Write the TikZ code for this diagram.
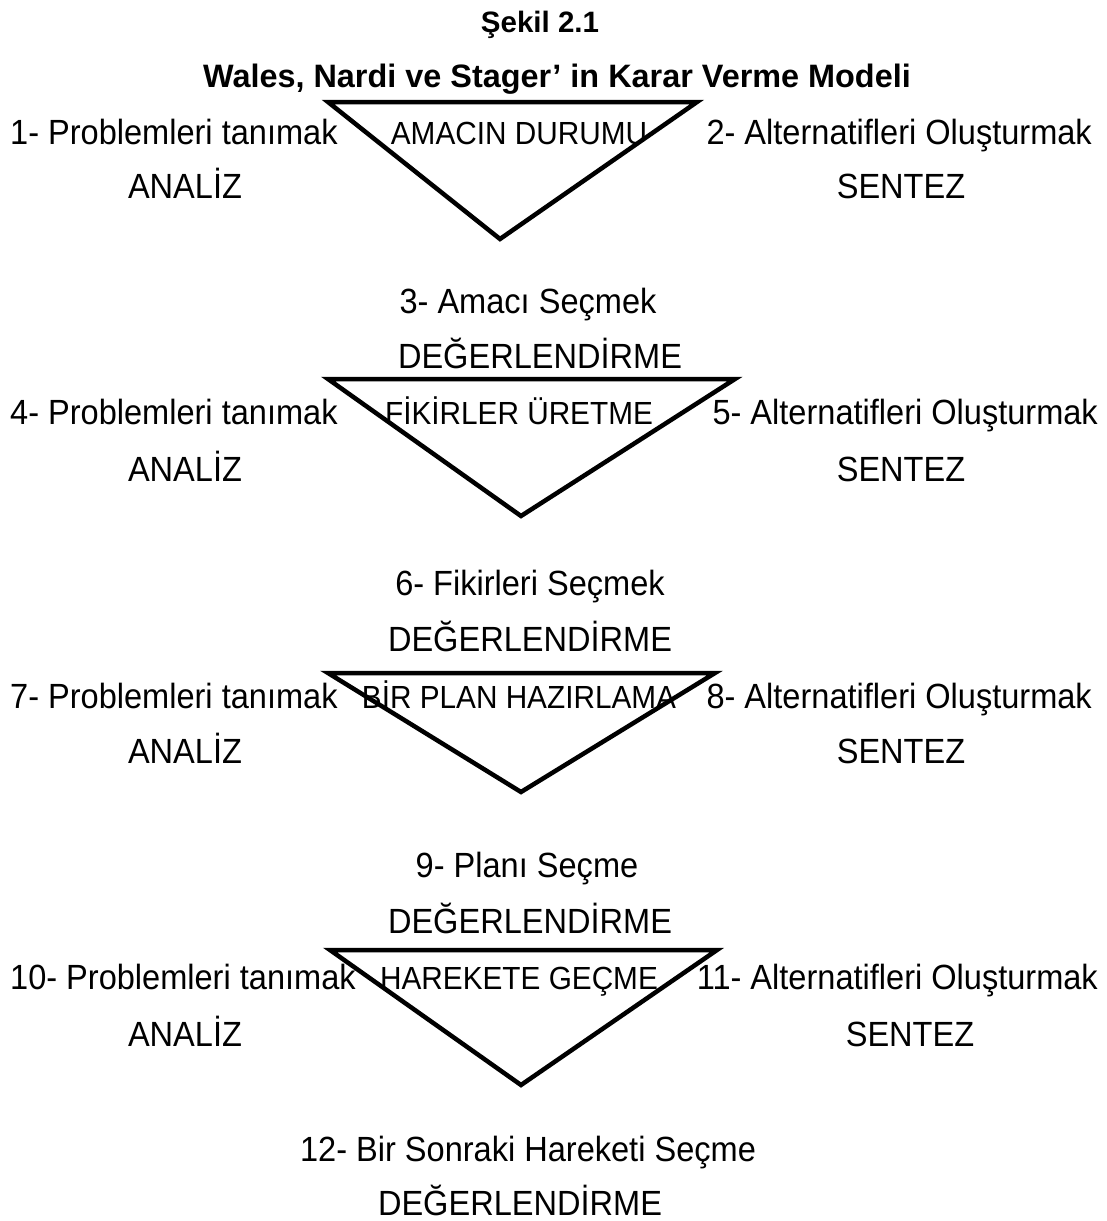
\documentclass[tikz,border=0pt]{standalone}
\usepackage{fontspec}
\setmainfont{Liberation Sans}
\tikzset{
  lbl/.style={font=\fontsize{35}{42}\selectfont, inner sep=0pt, anchor=base, xscale=0.93, transform shape},
  orta/.style={lbl, font=\fontsize{32}{38}\selectfont},
  ttl/.style={font=\bfseries\fontsize{32.4}{39}\selectfont, inner sep=0pt, anchor=base},
  tri/.style={black, line width=4.5pt, line join=miter}
}
\begin{document}
\begin{tikzpicture}[x=1pt, y=-1pt]
  \useasboundingbox (0,0) rectangle (1106,1221);
  % baslik
  \node[ttl, font=\bfseries\fontsize{29.5}{36}\selectfont] (sekil) at (540,32) {Şekil 2.1};
  \node[ttl] (baslik) at (557,87) {Wales, Nardi ve Stager’ in Karar Verme Modeli};
  % ucgenler
  \foreach \i/\xa/\xb/\xc/\ya/\yc in {1/328/697/500/102/239, 2/328/735/521/379/516,
                                      3/328/715/521/673/792, 4/330/717/521/950/1085} {
      \coordinate (tl\i) at (\xa,\ya);
      \coordinate (tr\i) at (\xb,\ya);
      \coordinate (bt\i) at (\xc,\yc);
      \draw[tri] (tl\i) -- (tr\i) -- (bt\i) -- cycle;
    }
  % asamalar
  \foreach \i/\y/\sl/\sr/\mid/\xr in {1/144/1/2/AMACIN DURUMU/1092, 2/424/4/5/FİKİRLER ÜRETME/1098,
                                      3/708/7/8/BİR PLAN HAZIRLAMA/1092, 4/989/10/11/HAREKETE GEÇME/1098} {
      \node[lbl, anchor=base west] (sol\i) at (10,\y) {\sl- Problemleri tanımak};
      \node[orta] (orta\i) at (519,\y) {\mid};
      \node[lbl, anchor=base east] (sag\i) at (\xr,\y) {\sr- Alternatifleri Oluşturmak};
    }
  \foreach \i/\y/\xs in {1/198/901, 2/481/901, 3/763/901, 4/1046/910} {
      \node[lbl] (analiz\i) at (185,\y) {ANALİZ};
      \node[lbl] (sentez\i) at (\xs,\y) {SENTEZ};
    }
  % secimler
  \node[lbl] (secim1) at (528,313) {3- Amacı Seçmek};
  \node[lbl] (deger1) at (540,368) {DEĞERLENDİRME};
  \node[lbl] (secim2) at (530,595) {6- Fikirleri Seçmek};
  \node[lbl] (deger2) at (530,651) {DEĞERLENDİRME};
  \node[lbl] (secim3) at (527,877) {9- Planı Seçme};
  \node[lbl] (deger3) at (530,933) {DEĞERLENDİRME};
  \node[lbl] (secim4) at (528,1161) {12- Bir Sonraki Hareketi Seçme};
  \node[lbl] (deger4) at (520,1215) {DEĞERLENDİRME};
\end{tikzpicture}
\end{document}
